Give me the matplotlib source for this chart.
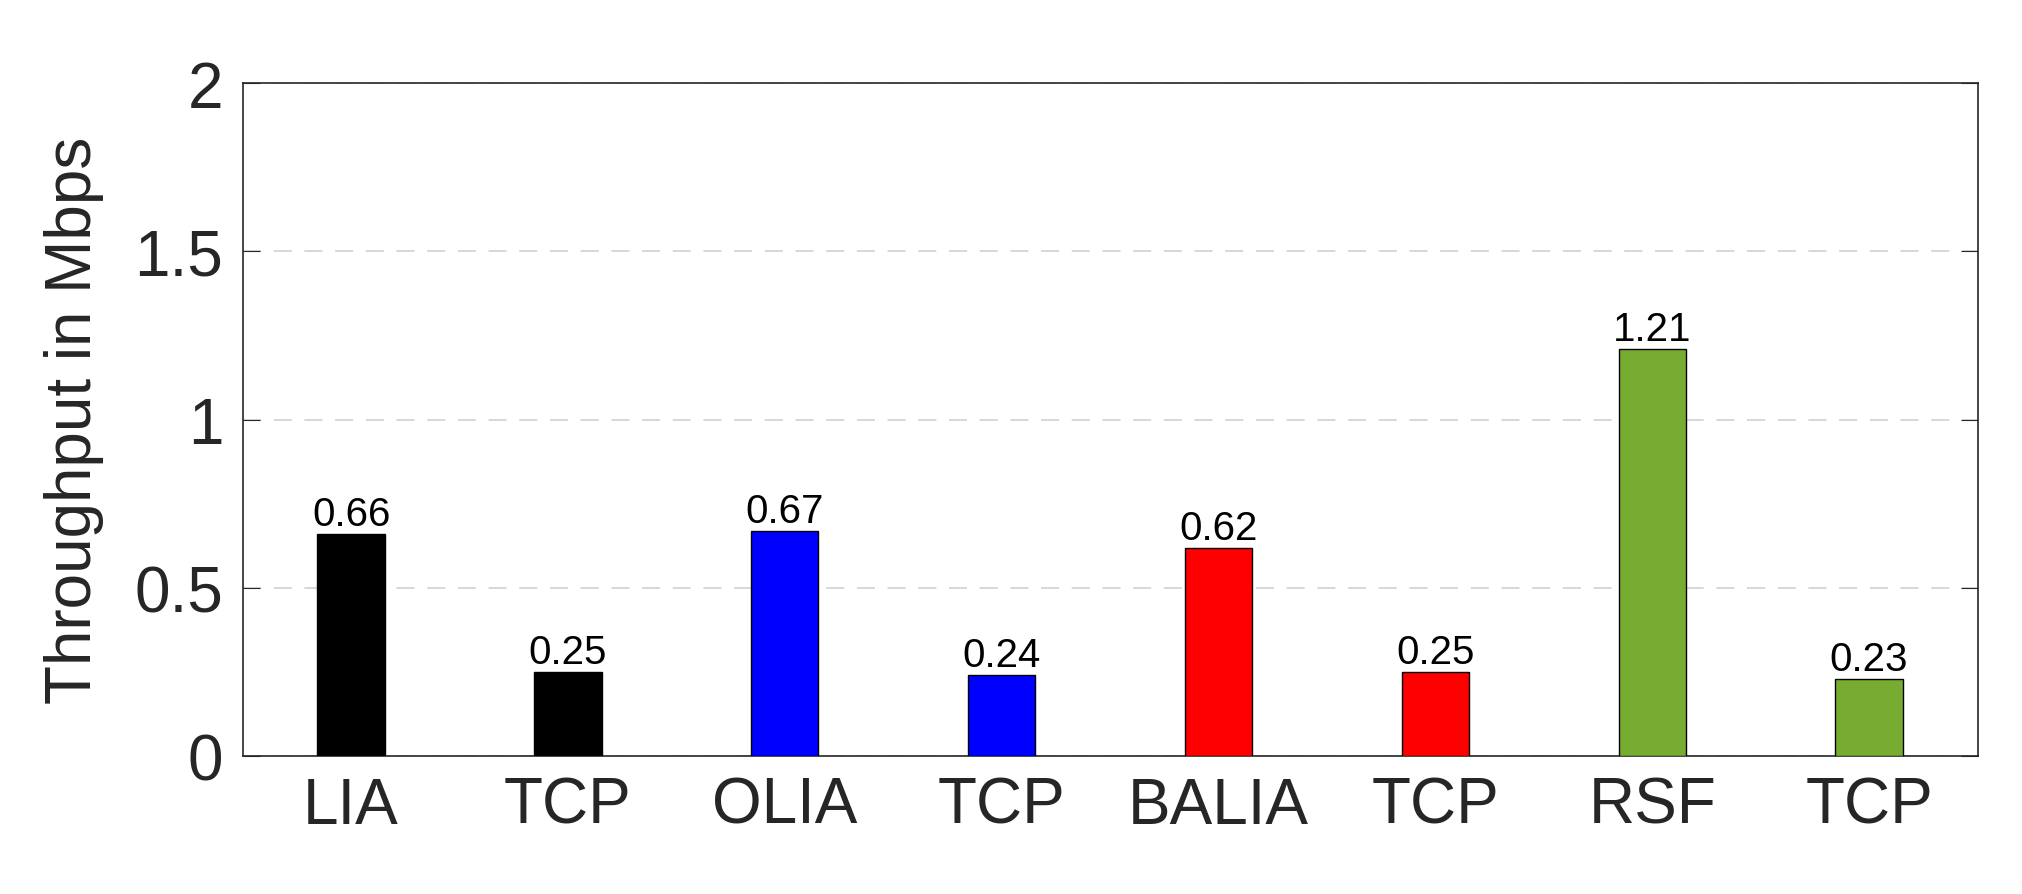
import matplotlib
matplotlib.use("Agg")
import matplotlib.pyplot as plt

categories = ["LIA", "TCP", "OLIA", "TCP", "BALIA", "TCP", "RSF", "TCP"]
values = [0.66, 0.25, 0.67, 0.24, 0.62, 0.25, 1.21, 0.23]
colors = ["#000000", "#000000", "#0000FF", "#0000FF", "#FF0000", "#FF0000", "#77AC30", "#77AC30"]
yticks = [0, 0.5, 1, 1.5, 2]
yticklabels = ["0", "0.5", "1", "1.5", "2"]

plt.rcParams['font.family'] = ['Liberation Sans', 'DejaVu Sans']
fig = plt.figure(figsize=(20.22, 8.95), dpi=100)
ax = fig.add_axes([0.12, 0.154, 0.858, 0.752])
x = list(range(1, len(values) + 1))
ax.bar(x, values, width=0.31, color=colors, edgecolor="black", linewidth=1, zorder=3)
for xi, v in zip(x, values):
    ax.text(xi, v + 0.003, f"{v:.2f}", ha="center", va="bottom", fontsize=29, color="black", zorder=4)
ax.set_xlim(0.5, 8.5)
ax.set_ylim(0, 2)
ax.set_xticks(x)
ax.set_xticklabels(categories)
ax.set_yticks(yticks)
ax.set_yticklabels(yticklabels)
ax.tick_params(axis="both", direction="in", length=12, labelsize=46, colors="#262626",
               top=True, right=True, pad=14)
ax.tick_params(axis="x", length=0)
ax.grid(axis="y", linestyle=(0, (10, 7)), color="#d4d4d4", linewidth=1.3, zorder=0)
ax.set_ylabel("Throughput in Mbps", fontsize=46, color="#262626", labelpad=22)
for s in ax.spines.values():
    s.set_linewidth(1.2)
    s.set_color("#262626")
fig.savefig("out.png", dpi=100)
